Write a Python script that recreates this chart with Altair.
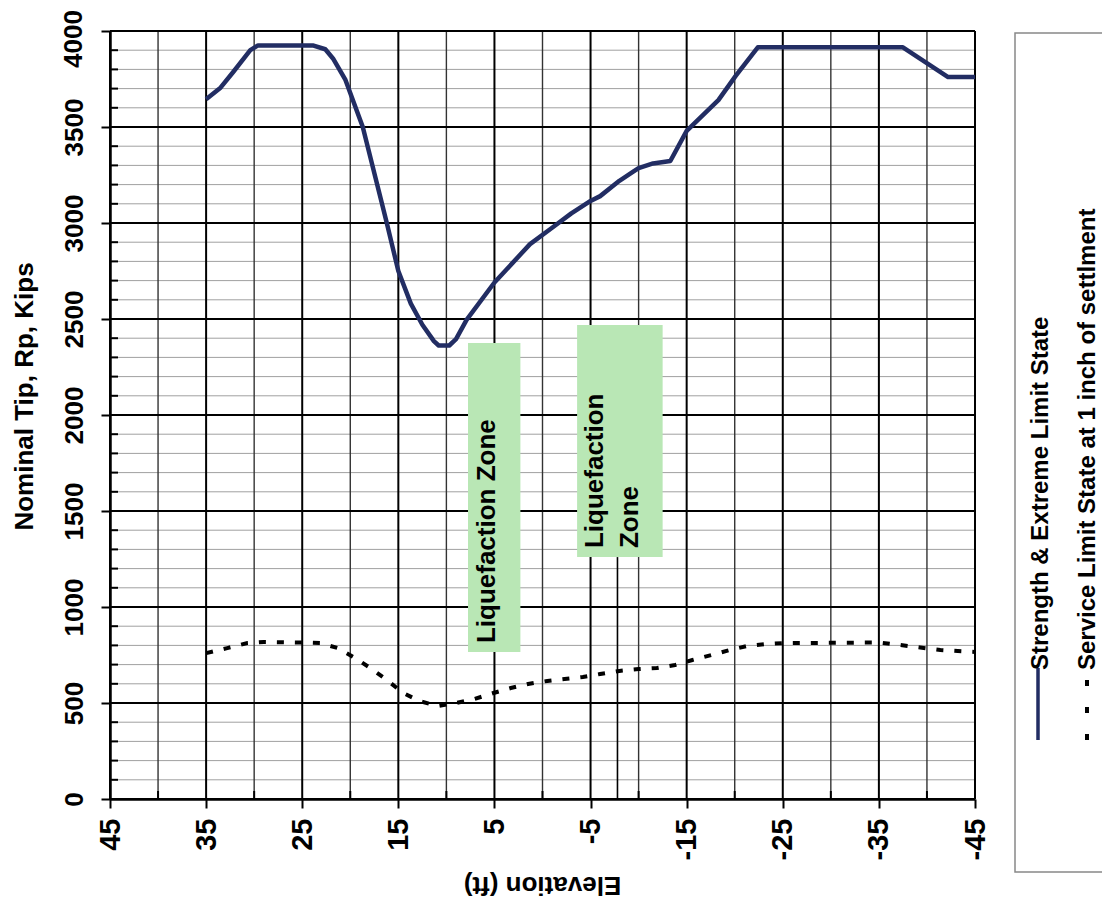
import altair as alt
import pandas as pd

# ---- data ----
strength_elev = [35, 33.5, 32.2, 30.4, 29.6, 23.9, 22.6, 21.8, 20.5, 18.7, 16.7, 16.2, 15, 13.7,
                 12.5, 11.3, 10.8, 9.7, 9, 7.9, 5, 1.3, -1, -3, -5, -6, -8, -9.4, -10, -11.5,
                 -13.3, -15, -18.3, -20.1, -22.4, -37.5, -42.2, -45]
strength_kips = [3645, 3705, 3785, 3900, 3925, 3925, 3905, 3857, 3745, 3500, 3100, 3000, 2750, 2580,
                 2470, 2385, 2362, 2362, 2395, 2495, 2690, 2890, 2975, 3050, 3115, 3140, 3220, 3266, 3286, 3310,
                 3323, 3480, 3640, 3766, 3915, 3915, 3760, 3760]

service_elev = [35, 32.8, 30.7, 29, 25, 23.1, 21.3, 19.7, 17.9, 16.2, 14.5, 12.8, 10.9, 9, 7.1,
                5.1, 3.3, 1.5, -0.5, -2.3, -4.2, -6, -8, -10, -11.9, -13.8, -15.6, -17.6, -19.5,
                -21.3, -23.2, -25, -35, -37.2, -41.4, -45]
service_kips = [760, 786, 812, 818, 815, 812, 786, 740, 682, 620, 552, 510, 484, 500, 521,
                552, 578, 599, 615, 625, 635, 651, 667, 677, 682, 698, 724, 750, 776,
                797, 807, 812, 815, 802, 776, 766]

x_ticks = [45, 35, 25, 15, 5, -5, -15, -25, -35, -45]
x_minor = [40, 30, 20, 10, 0, -10, -20, -30, -40]
y_ticks = [0, 500, 1000, 1500, 2000, 2500, 3000, 3500, 4000]
y_minor = [v for v in range(100, 4000, 100) if v % 500 != 0]
y_top_label = [4000]

zone_e1 = [7.75, -3.6]
zone_e2 = [2.3, -12.5]
zone_k1 = [766, 1260]
zone_k2 = [2375, 2469]

zone_text = ["Liquefaction Zone", "Liquefaction", "Zone"]
zone_text_e = [5.8, -5.5, -9.1]
zone_text_k = [812, 1307, 1307]

leader_e = [-7.8]
leader_k = [1260]

legend_labels = ["Strength & Extreme Limit State", "Service Limit State at 1 inch of settlment"]

FONT = "Liberation Sans"
NAVY = "#222d63"

xscale = alt.Scale(domain=[-45, 45], reverse=True, nice=False, zero=False)
yscale = alt.Scale(domain=[0, 4000], nice=False)

xaxis = alt.Axis(values=x_ticks, grid=False, labelAngle=270, labelAlign="right",
                 labelBaseline="middle", labelFontSize=29, labelFont=FONT,
                 labelFontWeight="bold", labelColor="black", labelPadding=10,
                 labelExpr="toString(datum.value)",
                 tickSize=9, tickWidth=2, tickColor="black", domainWidth=2.5,
                 domainColor="black", labelFlush=False, labelOverlap=False,
                 title="Elevation (ft)", titleAngle=180, titleFontSize=26, titleFont=FONT,
                 titleFontWeight="bold", titleColor="black", titleX=432, titleY=85,
                 titleBaseline="middle", titleAlign="center")
yaxis = alt.Axis(values=y_ticks, grid=False, labelAngle=270, labelAlign="center",
                 labelBaseline="alphabetic", labelFontSize=26, labelFont=FONT,
                 labelFontWeight="bold", labelColor="black", labelPadding=19,
                 labelExpr="datum.value == 4000 ? '' : toString(datum.value)",
                 tickSize=9, tickWidth=2, tickColor="black", domainWidth=2.5,
                 domainColor="black", labelFlush=False, labelOverlap=False,
                 title="Nominal Tip, Rp, Kips", titleAngle=270, titleFontSize=26, titleFont=FONT,
                 titleFontWeight="bold", titleColor="black", titleX=-86, titleY=365,
                 titleBaseline="middle", titleAlign="center")

one = pd.DataFrame({"a": [0]})

# grid
g_y_minor = alt.Chart(pd.DataFrame({"k": y_minor})).mark_rule(color="#a0a0a0", strokeWidth=1).encode(
    y=alt.Y("k:Q", scale=yscale, axis=yaxis))
g_x_minor = alt.Chart(pd.DataFrame({"e": x_minor})).mark_rule(color="#333333", strokeWidth=1.4).encode(
    x=alt.X("e:Q", scale=xscale, axis=xaxis))
g_y_major = alt.Chart(pd.DataFrame({"k": y_ticks})).mark_rule(color="black", strokeWidth=2).encode(
    y=alt.Y("k:Q", scale=yscale))
g_x_major = alt.Chart(pd.DataFrame({"e": x_ticks})).mark_rule(color="black", strokeWidth=2).encode(
    x=alt.X("e:Q", scale=xscale))
t_y_minor = alt.Chart(pd.DataFrame({"k": y_minor})).mark_rule(color="black", strokeWidth=2).encode(
    y=alt.Y("k:Q", scale=yscale), x=alt.value(0), x2=alt.value(8))
t_x_minor = alt.Chart(pd.DataFrame({"e": x_minor})).mark_rule(color="black", strokeWidth=2).encode(
    x=alt.X("e:Q", scale=xscale), y=alt.value(760), y2=alt.value(768))

# top y label (kept inside the page edge)
top_label = alt.Chart(pd.DataFrame({"k": y_top_label})).mark_text(
    angle=270, align="center", baseline="alphabetic", font=FONT, fontSize=26, fontWeight="bold",
    color="black", dx=-8).encode(
    y=alt.Y("k:Q", scale=yscale), x=alt.value(-28), text=alt.Text("k:Q", format="d"))

# liquefaction zones
zones = alt.Chart(pd.DataFrame({"e1": zone_e1, "e2": zone_e2, "k1": zone_k1, "k2": zone_k2})).mark_rect(
    color="#b9e7b5").encode(
    x=alt.X("e1:Q", scale=xscale), x2="e2:Q",
    y=alt.Y("k1:Q", scale=yscale), y2="k2:Q")
leader = alt.Chart(pd.DataFrame({"e": leader_e, "k": leader_k})).mark_rule(color="black", strokeWidth=1.6).encode(
    x=alt.X("e:Q", scale=xscale), y=alt.Y("k:Q", scale=yscale), y2=alt.datum(0))
zone_labels = alt.Chart(pd.DataFrame({"t": zone_text, "e": zone_text_e, "k": zone_text_k})).mark_text(
    angle=270, align="left", baseline="middle", font=FONT, fontSize=26, fontWeight="bold",
    color="black").encode(
    x=alt.X("e:Q", scale=xscale), y=alt.Y("k:Q", scale=yscale), text="t:N")

# series
strength = alt.Chart(pd.DataFrame({"e": strength_elev, "k": strength_kips})).mark_line(
    color=NAVY, strokeWidth=4.5, strokeJoin="round").encode(
    x=alt.X("e:Q", scale=xscale), y=alt.Y("k:Q", scale=yscale), order=alt.Order("e:Q", sort="descending"))
service = alt.Chart(pd.DataFrame({"e": service_elev, "k": service_kips})).mark_line(
    color="black", strokeWidth=4, strokeDash=[7, 11]).encode(
    x=alt.X("e:Q", scale=xscale), y=alt.Y("k:Q", scale=yscale), order=alt.Order("e:Q", sort="descending"))

# legend (drawn by hand, rotated like the reference)
leg_box = alt.Chart(one).mark_rect(fill="white", stroke="#888888", strokeWidth=1.5).encode(
    x=alt.value(905), x2=alt.value(1010), y=alt.value(2), y2=alt.value(841))
leg_line = alt.Chart(one).mark_rule(color=NAVY, strokeWidth=3.5).encode(
    x=alt.value(928), y=alt.value(637), y2=alt.value(709))
leg_dash = alt.Chart(one).mark_rule(color="black", strokeWidth=4, strokeDash=[6, 21]).encode(
    x=alt.value(977), y=alt.value(649), y2=alt.value(709))
leg_text = alt.Chart(pd.DataFrame({"t": legend_labels, "px": [931, 978]})).mark_text(
    angle=270, align="left", baseline="middle", font=FONT, fontSize=24, fontWeight="bold",
    color="black").encode(
    x=alt.X("px:Q", scale=None), y=alt.value(639), text="t:N")

chart = alt.layer(
    g_y_minor, g_x_minor, g_y_major, g_x_major, t_y_minor, t_x_minor, top_label,
    zones, leader, strength, service, zone_labels,
    leg_box, leg_line, leg_dash, leg_text
).properties(
    width=865, height=768,
    padding={"left": 102, "top": 23, "right": 127, "bottom": 102},
    autosize=alt.AutoSizeParams(type="none"),
    background="white"
).configure_view(stroke=None)

chart.save("out.html", embed_options={"renderer": "svg", "actions": False})
